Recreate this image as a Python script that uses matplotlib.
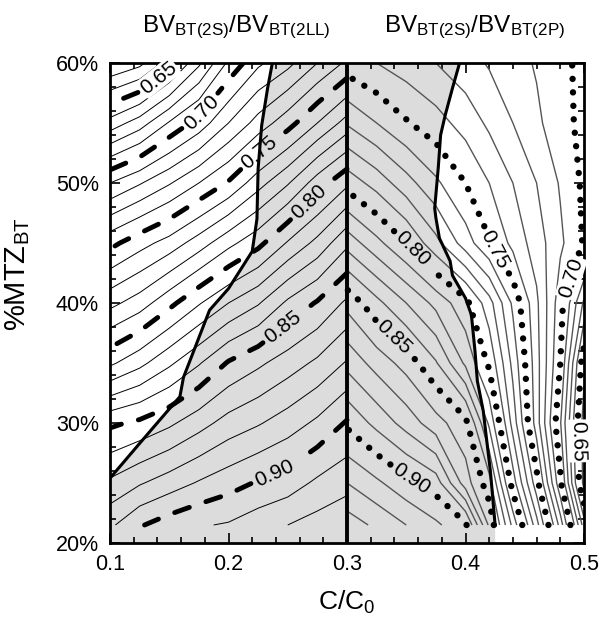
import numpy as np
import matplotlib
matplotlib.use('Agg')
import matplotlib.pyplot as plt
from matplotlib.ticker import MultipleLocator, FuncFormatter

plt.rcParams['font.family'] = ['Liberation Sans', 'DejaVu Sans']
plt.rcParams['mathtext.fontset'] = 'custom'
plt.rcParams['mathtext.rm'] = 'Liberation Sans'
plt.rcParams['mathtext.it'] = 'Liberation Sans:italic'

# ---------------- data ----------------
y_grid = [21.5, 25, 30, 35, 40, 45, 50, 55, 60]           # %MTZ_BT

# left panel: BV_BT(2S)/BV_BT(2LL)
x_left = [0.10, 0.125, 0.15, 0.175, 0.20, 0.225, 0.25, 0.275, 0.30]
z_left = [
    [0.888, 0.899, 0.905, 0.909, 0.911, 0.916, 0.920, 0.924, 0.927],
    [0.872, 0.879, 0.885, 0.891, 0.896, 0.901, 0.905, 0.912, 0.917],
    [0.848, 0.852, 0.858, 0.866, 0.874, 0.879, 0.885, 0.892, 0.901],
    [0.808, 0.817, 0.828, 0.839, 0.851, 0.858, 0.865, 0.872, 0.881],
    [0.777, 0.785, 0.797, 0.809, 0.820, 0.829, 0.842, 0.851, 0.862],
    [0.747, 0.756, 0.764, 0.775, 0.787, 0.797, 0.811, 0.823, 0.838],
    [0.710, 0.719, 0.729, 0.740, 0.751, 0.766, 0.779, 0.795, 0.808],
    [0.664, 0.675, 0.691, 0.704, 0.720, 0.734, 0.746, 0.760, 0.774],
    [0.620, 0.627, 0.645, 0.668, 0.692, 0.708, 0.717, 0.730, 0.742],
]

# right panel: BV_BT(2S)/BV_BT(2P)
x_right = [0.30, 0.325, 0.35, 0.375, 0.40, 0.42, 0.44, 0.46, 0.48, 0.50]
z_right = [
    [0.935, 0.928, 0.920, 0.912, 0.902, 0.858, 0.817, 0.774, 0.726, 0.665],
    [0.920, 0.912, 0.903, 0.895, 0.865, 0.844, 0.795, 0.754, 0.702, 0.636],
    [0.898, 0.887, 0.876, 0.864, 0.853, 0.818, 0.776, 0.735, 0.691, 0.635],
    [0.877, 0.866, 0.856, 0.841, 0.818, 0.798, 0.767, 0.734, 0.700, 0.643],
    [0.857, 0.843, 0.830, 0.817, 0.803, 0.784, 0.758, 0.732, 0.704, 0.668],
    [0.826, 0.813, 0.800, 0.783, 0.765, 0.751, 0.737, 0.725, 0.712, 0.699],
    [0.796, 0.786, 0.774, 0.762, 0.750, 0.740, 0.730, 0.720, 0.709, 0.698],
    [0.769, 0.760, 0.751, 0.744, 0.736, 0.728, 0.720, 0.712, 0.704, 0.697],
    [0.745, 0.740, 0.735, 0.730, 0.724, 0.719, 0.714, 0.709, 0.703, 0.697],
]

# boundaries of the shaded regions
bnd_left_x = [0.10, 0.125, 0.159, 0.162, 0.184, 0.20, 0.22, 0.224, 0.225, 0.228, 0.233, 0.237]
bnd_left_y = [25.4, 28.3, 32.2, 33.8, 39.4, 41.2, 44.3, 47.0, 51.2, 54.8, 57.9, 60.0]
bnd_right_x = [0.395, 0.389, 0.383, 0.379, 0.377, 0.374, 0.375, 0.378, 0.387, 0.389,
               0.400, 0.405, 0.408, 0.410, 0.415, 0.417, 0.421, 0.425]
bnd_right_y = [60.0, 57.9, 55.7, 54.0, 51.25, 47.9, 47.1, 45.4, 43.5, 42.3,
               40.4, 39.0, 36.0, 33.5, 31.0, 29.3, 26.0, 21.5]

bold_levels = [0.65, 0.70, 0.75, 0.80, 0.85, 0.90]
thin_levels = [round(0.60 + 0.01 * i, 2) for i in range(36) if i % 5 != 0]

x_ticks = [0.1, 0.2, 0.3, 0.4, 0.5]
y_ticks = [20, 30, 40, 50, 60]

left_label_pos = [(0.14, 58.9), (0.178, 55.8), (0.228, 52.3), (0.265, 48.7), (0.242, 38.5), (0.239, 25.7)]
right_label_pos = [(0.493, 28.5), (0.493, 42.0), (0.425, 44.5), (0.353, 44.3), (0.341, 37.3), (0.354, 25.3)]

# ---------------- figure ----------------
fig = plt.figure(figsize=(6.05, 6.18), dpi=100)
ax = fig.add_axes([110 / 605, 1 - 543 / 618, 474 / 605, 480 / 618])
ax.set_xlim(0.1, 0.5)
ax.set_ylim(20, 60)

grey = '#dcdcdc'
poly_lx = list(bnd_left_x) + [0.30, 0.30, 0.10]
poly_ly = list(bnd_left_y) + [60, 20, 20]
ax.fill(poly_lx, poly_ly, color=grey, lw=0, zorder=0)
poly_rx = [0.30] + list(bnd_right_x) + [0.425, 0.30]
poly_ry = [60] + list(bnd_right_y) + [20, 20]
ax.fill(poly_rx, poly_ry, color=grey, lw=0, zorder=0)

XL, YL = np.meshgrid(x_left, y_grid)
XR, YR = np.meshgrid(x_right, y_grid)
ZL = np.array(z_left)
ZR = np.array(z_right)

ax.contour(XL, YL, ZL, levels=thin_levels, colors='black', linewidths=0.7, zorder=2)
ax.contour(XR, YR, ZR, levels=thin_levels, colors='#555555', linewidths=1.0, zorder=2)

csl = ax.contour(XL, YL, ZL, levels=bold_levels, colors='black', linewidths=3.5,
                 linestyles=[(0, (3.2, 3.6))], zorder=3)
csl.set_capstyle('round')
csr = ax.contour(XR, YR, ZR, levels=bold_levels, colors='black', linewidths=4.6,
                 linestyles=[(0, (0.01, 2.1))], zorder=3)
csr.set_capstyle('round')

ax.plot(bnd_left_x, bnd_left_y, color='black', lw=2.2, zorder=4)
ax.plot(bnd_right_x, bnd_right_y, color='black', lw=2.2, zorder=4)
ax.axvline(0.30, color='black', lw=2.8, zorder=5)

tl = ax.clabel(csl, manual=left_label_pos, inline=True, inline_spacing=5, fontsize=15, fmt='%.2f')
tr = ax.clabel(csr, manual=right_label_pos, inline=True, inline_spacing=5, fontsize=15, fmt='%.2f')
for t in list(tl) + list(tr):
    t.set_clip_on(False)
    t.set_zorder(4.5)
    lab = t.get_text()
    x0, y0 = t.get_position()
    inside_grey = (x0 <= 0.30 and lab in ('0.80', '0.85', '0.90')) or \
                  (x0 > 0.30 and lab in ('0.80', '0.85', '0.90'))
    if lab == '0.75':
        continue
    t.set_bbox(dict(boxstyle='square,pad=0.05', fc=grey if inside_grey else 'white', ec='none'))

ax.set_xticks(x_ticks)
ax.set_yticks(y_ticks)
ax.xaxis.set_minor_locator(MultipleLocator(0.02))
ax.yaxis.set_minor_locator(MultipleLocator(2))
ax.xaxis.set_major_formatter(FuncFormatter(lambda v, p: f"{v:.1f}"))
ax.yaxis.set_major_formatter(FuncFormatter(lambda v, p: f"{int(round(v))}%"))
ax.tick_params(which='both', direction='in', top=True, right=True, labelsize=15.5, width=1.2)
ax.tick_params(which='major', length=7, pad=8)
ax.tick_params(which='minor', length=4)
for s in ax.spines.values():
    s.set_linewidth(2)

ax.set_xlabel(r"C/C$_0$", fontsize=19, labelpad=10)
ax.set_ylabel(r"%MTZ$_{\mathregular{BT}}$", fontsize=21)
ax.yaxis.set_label_coords(-0.165, 0.56)

fig.text(236 / 605, 1 - 27 / 618, r"BV$_{\mathregular{BT(2S)}}$/BV$_{\mathregular{BT(2LL)}}$",
         ha='center', va='center', fontsize=17.5)
fig.text(475 / 605, 1 - 27 / 618, r"BV$_{\mathregular{BT(2S)}}$/BV$_{\mathregular{BT(2P)}}$",
         ha='center', va='center', fontsize=17.5)

fig.savefig('out.png', dpi=100)
